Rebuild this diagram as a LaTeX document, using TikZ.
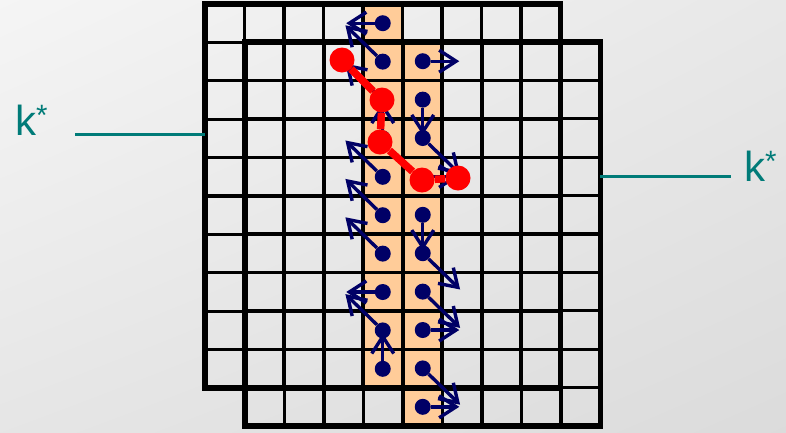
\documentclass[tikz,border=0pt]{standalone}
\usepackage{fontspec}
\setmainfont{Liberation Sans}
\usetikzlibrary{arrows.meta, shadings}
\definecolor{bandorange}{HTML}{FFCC99}
\definecolor{ptrblue}{HTML}{000066}
\definecolor{kteal}{HTML}{007B78}
\begin{document}
\begin{tikzpicture}[x=1pt, y=-1pt,
  g1/.style={shift={(205,4)}, x=39.5pt, y=-38.4pt},
  g2/.style={shift={(245,42)}, x=39.5pt, y=-38.4pt},
  band/.style={fill=bandorange},
  cellline/.style={line width=3.2pt, black},
  frame/.style={line width=5.5pt, black, line join=miter},
  dot/.style={circle, fill=ptrblue, minimum size=16pt, inner sep=0pt},
  ptr/.style={-{Straight Barb[length=17pt, width=22pt, line width=3.4pt]},
              line width=3.4pt, ptrblue, shorten >=3pt},
  hit/.style={circle, fill=red, minimum size=25pt, inner sep=0pt},
  hitpath/.style={line width=7.5pt, red},
  klabel/.style={text=kteal, font=\fontsize{42}{48}\selectfont, inner sep=0pt},
  kline/.style={line width=3pt, kteal},
]

% Canvas
\useasboundingbox (0,0) rectangle (786,432);
\shade[upper left=black!4, upper right=black!9, lower left=black!10,
       lower right=black!14] (0,0) rectangle (786,432);

% Bands and cell centres
\begin{scope}[g1]
  \fill[band] (4,0) rectangle (5,10);
  \foreach \r in {0,...,9}{\foreach \c in {0,...,8}{
    \coordinate (a-\r-\c) at (\c+0.5,\r+0.5);}}
\end{scope}
\begin{scope}[g2]
  \fill[band] (4,0) rectangle (5,10);
  \foreach \r in {0,...,9}{\foreach \c in {0,...,8}{
    \coordinate (b-\r-\c) at (\c+0.5,\r+0.5);}}
\end{scope}

% Grid lines
\begin{scope}[g1]
  \foreach \c in {1,...,8} \draw[cellline] (\c,0) -- (\c,10);
  \foreach \r in {1,...,9} \draw[cellline] (0,\r) -- (9,\r);
  \draw[frame] (0,0) rectangle (9,10);
\end{scope}
\begin{scope}[g2]
  \foreach \c in {1,...,8} \draw[cellline] (\c,0) -- (\c,10);
  \foreach \r in {1,...,9} \draw[cellline] (0,\r) -- (9,\r);
  \draw[frame] (0,0) rectangle (9,10);
\end{scope}

% Back band: pointers left / up-left / up
\foreach \r in {0,...,9} \node[dot] (p-\r) at (a-\r-4) {};
\draw[ptr] (p-0) -- (a-0-3);
\draw[ptr] (p-1) -- (a-0-3);
\draw[ptr] (p-2) -- (a-1-3);
\draw[ptr] (p-3) -- (a-2-4);
\draw[ptr] (p-4) -- (a-3-3);
\draw[ptr] (p-5) -- (a-4-3);
\draw[ptr] (p-6) -- (a-5-3);
\draw[ptr] (p-7) -- (a-7-3);
\draw[ptr] (p-8) -- (a-7-3);
\draw[ptr] (p-9) -- (a-8-4);

% Front band: pointers right / down-right / down
\foreach \r in {0,...,9} \node[dot] (q-\r) at (b-\r-4) {};
\draw[ptr] (q-0) -- (b-0-5);
\draw[ptr] (q-1) -- (b-2-4);
\draw[ptr] (q-2) -- (b-3-5);
\draw[ptr] (q-3) -- (b-3-5);
\draw[ptr] (q-4) -- (b-5-4);
\draw[ptr] (q-5) -- (b-6-5);
\draw[ptr] (q-6) -- (b-7-5);
\draw[ptr] (q-7) -- (b-7-5);
\draw[ptr] (q-8) -- (b-9-5);
\draw[ptr] (q-9) -- (b-9-5);

% Best path
\node[hit] (h1) at (342,60) {};
\node[hit] (h2) at (382,100) {};
\node[hit] (h3) at (380,142) {};
\node[hit] (h4) at (422,180) {};
\node[hit] (h5) at (458,178) {};
\draw[hitpath] (h1) -- (h2) -- (h3) -- (h4) -- (h5);

% k* markers
\node[klabel, anchor=base west] (kl) at (15,135) {k\textsuperscript{*}};
\coordinate (kl-out) at (75,134);
\coordinate (kl-in) at (205,134);
\draw[kline] (kl-out) -- (kl-in);

\node[klabel, anchor=base west] (kr) at (744,181) {k\textsuperscript{*}};
\coordinate (kr-in) at (600,176);
\coordinate (kr-out) at (731,176);
\draw[kline] (kr-in) -- (kr-out);

\end{tikzpicture}
\end{document}
